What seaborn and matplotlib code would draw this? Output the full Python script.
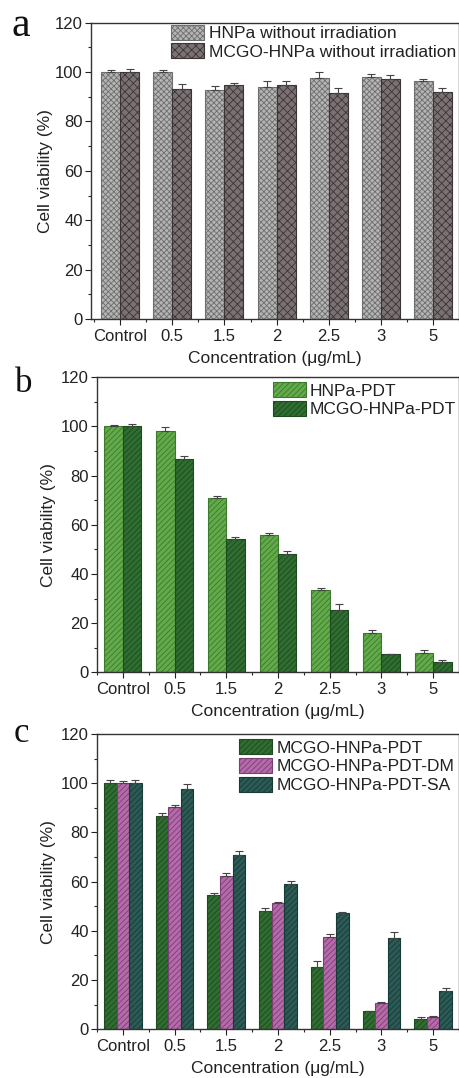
import numpy as np
import pandas as pd
import matplotlib
matplotlib.use("Agg")
import matplotlib.pyplot as plt
from matplotlib.ticker import MultipleLocator, FixedLocator
import seaborn as sns

categories = ["Control", "0.5", "1.5", "2", "2.5", "3", "5"]

# Panel a
a_labels = ["HNPa without irradiation", "MCGO-HNPa without irradiation"]
a_hnpa = [100.0, 100.0, 92.6, 93.8, 97.6, 98.1, 96.2]
a_hnpa_err = [0.8, 0.8, 1.8, 2.4, 2.4, 1.0, 0.9]
a_mcgo = [100.0, 93.3, 94.9, 94.9, 91.4, 97.4, 92.1]
a_mcgo_err = [1.4, 1.8, 0.8, 1.4, 2.3, 1.4, 1.6]

# Panel b
b_labels = ["HNPa-PDT", "MCGO-HNPa-PDT"]
b_hnpa = [100.0, 98.3, 71.1, 55.9, 33.4, 15.9, 8.0]
b_hnpa_err = [0.8, 1.6, 0.8, 0.9, 1.0, 1.5, 1.0]
b_mcgo = [100.0, 86.6, 54.4, 48.1, 25.4, 7.3, 4.2]
b_mcgo_err = [1.2, 1.2, 0.8, 1.3, 2.2, 0.3, 1.0]

# Panel c
c_labels = ["MCGO-HNPa-PDT", "MCGO-HNPa-PDT-DM", "MCGO-HNPa-PDT-SA"]
c_pdt = [100.0, 86.6, 54.4, 48.1, 25.4, 7.3, 4.2]
c_pdt_err = [1.2, 1.2, 0.8, 1.3, 2.2, 0.3, 0.9]
c_dm = [100.0, 90.2, 62.1, 51.2, 37.4, 10.6, 5.1]
c_dm_err = [0.8, 1.0, 1.6, 0.4, 1.2, 0.4, 0.4]
c_sa = [100.0, 97.5, 71.0, 58.9, 47.3, 37.0, 15.6]
c_sa_err = [1.2, 2.2, 1.3, 1.5, 0.4, 2.7, 1.2]

xlabel = "Concentration (\u03bcg/mL)"
ylabel = "Cell viability (%)"

sns.set_theme(style="ticks")
plt.rcParams["font.family"] = ["Liberation Sans", "DejaVu Sans"]
plt.rcParams["hatch.linewidth"] = 0.6

fig = plt.figure(figsize=(4.6, 10.78), dpi=100)
W, H = 460.0, 1078.0

def make_ax(left, top, right, bottom):
    return fig.add_axes([left / W, 1 - bottom / H, (right - left) / W, (bottom - top) / H])

def panel(ax, labels, values, errs, faces, edges, hatches, width, xlim, leg_x, leg_top_px, ax_h_px, ylpad):
    rows = []
    for lab, vals in zip(labels, values):
        for cat, v in zip(categories, vals):
            rows.append({"Concentration": cat, "Viability": v, "Group": lab})
    df = pd.DataFrame(rows)
    sns.barplot(data=df, x="Concentration", y="Viability", hue="Group",
                order=categories, hue_order=labels, palette=faces,
                width=width, errorbar=None, ax=ax, saturation=1, legend=False)
    for cont, ec, ht, err in zip(ax.containers, edges, hatches, errs):
        xs = []
        for p in cont.patches:
            p.set_edgecolor(ec)
            p.set_hatch(ht)
            p.set_linewidth(0.8)
            xs.append(p.get_x() + p.get_width() / 2)
        vals = [p.get_height() for p in cont.patches]
        ax.errorbar(xs, vals, yerr=[np.zeros(len(err)), err], fmt="none",
                    ecolor="#444444", elinewidth=0.8, capsize=3, capthick=0.8)
    ax.set_ylim(0, 120)
    ax.set_xlim(*xlim)
    ax.yaxis.set_major_locator(MultipleLocator(20))
    ax.yaxis.set_minor_locator(MultipleLocator(10))
    ax.xaxis.set_minor_locator(FixedLocator(np.arange(-0.5, 7, 1.0)))
    ax.tick_params(axis="both", which="major", direction="out", length=4, width=0.8,
                   labelsize=12, colors="#222222", pad=2)
    ax.tick_params(axis="both", which="minor", direction="out", length=2.5, width=0.8)
    ax.tick_params(axis="x", which="major", pad=3)
    for s in ax.spines.values():
        s.set_visible(True)
        s.set_linewidth(1.0)
        s.set_color("#333333")
    ax.set_xlabel(xlabel, fontsize=12.5, color="#222222", labelpad=5)
    ax.set_ylabel(ylabel, fontsize=12.5, color="#222222", labelpad=ylpad)
    leg = ax.legend(ax.containers, labels, loc="upper left",
                    bbox_to_anchor=(leg_x, 1 - leg_top_px / ax_h_px),
                    frameon=False, fontsize=12.5, borderpad=0, borderaxespad=0,
                    handlelength=1.9, handleheight=0.95, handletextpad=0.25,
                    labelspacing=0.12)
    for t in leg.get_texts():
        t.set_color("#222222")

# Panel a
axa = make_ax(91, 22.7, 459, 319)
panel(axa, a_labels, [a_hnpa, a_mcgo], [a_hnpa_err, a_mcgo_err],
      ["#b4b4b4", "#7a7272"], ["#6e6e6e", "#3c3434"], ["xxxxxx", "xxxx"],
      0.73, (-0.56, 6.5), 0.218, 2.0, 296.3, 1.5)

# Panel b
axb = make_ax(97, 377.3, 459, 672.3)
panel(axb, b_labels, [b_hnpa, b_mcgo], [b_hnpa_err, b_mcgo_err],
      ["#62aa4a", "#2f6d31"], ["#3b7a2c", "#1d4a1f"], ["//////", "//////"],
      0.71, (-0.5, 6.5), 0.485, 5.0, 295.0, 3.5)

# Panel c
axc = make_ax(97, 734, 459, 1029.3)
panel(axc, c_labels, [c_pdt, c_dm, c_sa], [c_pdt_err, c_dm_err, c_sa_err],
      ["#2f6d31", "#b56aa9", "#2c5a55"], ["#1d4a1f", "#7a3f72", "#183a36"],
      ["//////", "//////", "//////"],
      0.73, (-0.5, 6.5), 0.393, 5.5, 295.3, 3.5)

serif = ["Liberation Serif", "DejaVu Serif"]
fig.text(12 / W, 1 - 36 / H, "a", fontsize=30, family=serif, color="#111111")
fig.text(15 / W, 1 - 392 / H, "b", fontsize=25, family=serif, color="#111111")
fig.text(14 / W, 1 - 742 / H, "c", fontsize=25, family=serif, color="#111111")

fig.savefig("out.png", dpi=100)
